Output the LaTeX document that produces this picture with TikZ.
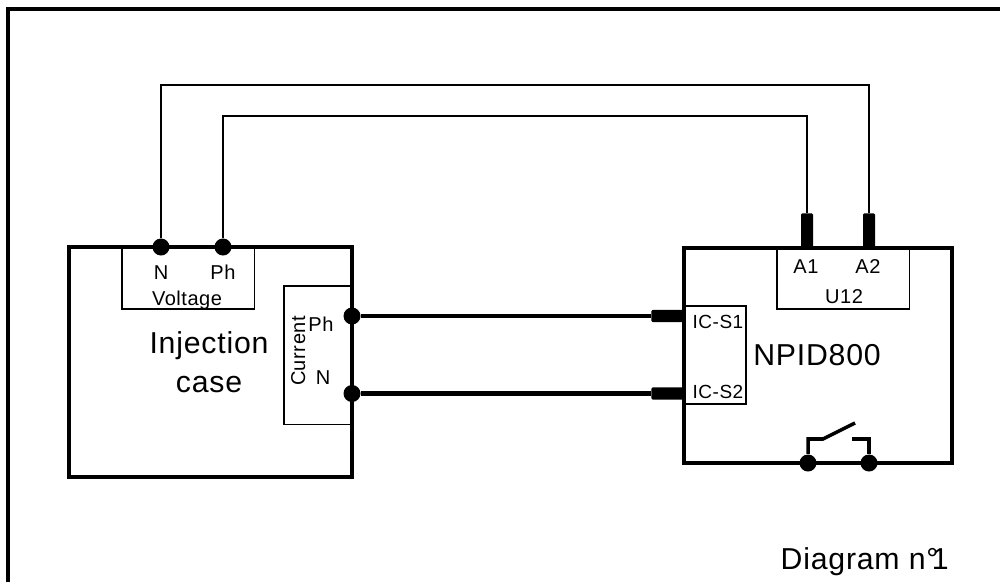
\documentclass[tikz,border=0pt]{standalone}
\usepackage{fontspec}
\setmainfont[LetterSpace=2.6]{Liberation Sans}
\tikzset{
	boxthick/.style={draw, line width=1pt, rectangle, anchor=north west, inner sep=0pt, outer sep=0pt},
	boxthin/.style={draw, line width=0.32pt, rectangle, anchor=north west, inner sep=0pt, outer sep=0pt},
	termdot/.style={circle, fill=black, inner sep=0pt, minimum size=0.17cm},
	plugv/.style={rectangle, fill=black, rounded corners=0.4pt, inner sep=0pt, minimum width=0.12cm, minimum height=0.34cm, anchor=south},
	plugh/.style={rectangle, fill=black, rounded corners=0.4pt, inner sep=0pt, minimum width=0.32cm, minimum height=0.12cm, anchor=east},
	smalltxt/.style={font=\fontsize{5.7}{6.8}\selectfont, anchor=base, inner sep=0pt},
	bigtxt/.style={font=\fontsize{8.6}{10.3}\selectfont, anchor=base, inner sep=0pt},
	wirethin/.style={line width=0.32pt},
	wirethick/.style={line width=1.15pt},
	switchline/.style={line width=1pt}
}
\begin{document}
\begin{tikzpicture}[x=0.01cm, y=-0.01cm]
	\useasboundingbox (0,0) rectangle (1000,582);
	% Outer frame
	\coordinate (framebl) at (8,582);
	\coordinate (framecorner) at (8,9);
	\coordinate (frametr) at (1000,9);
	\draw[line width=1.15pt] (framebl) -- (framecorner) -- (frametr);

	% Injection case
	\node[boxthin, minimum width=1.32cm, minimum height=0.62cm] (voltbox) at (122,247) {};
	\node[boxthin, minimum width=0.68cm, minimum height=1.38cm] (currbox) at (284,286) {};
	\node[boxthick, minimum width=2.83cm, minimum height=2.30cm] (injbox) at (69,247) {};
	\node[termdot] (dotn) at (161,247) {};
	\node[termdot] (dotph) at (223,247) {};
	\node[termdot] (dotcph) at (352,316) {};
	\node[termdot] (dotcn) at (352,393.5) {};
	\node[smalltxt] (lbln) at (161,279) {N};
	\node[smalltxt] (lblph) at (223,279) {Ph};
	\node[smalltxt] (lblvolt) at (187,305) {Voltage};
	\node[bigtxt] (lblinj) at (209,353) {Injection};
	\node[bigtxt] (lblcase) at (209,392) {case};
	\node[smalltxt, rotate=90] (lblcurr) at (305,351) {Current};
	\node[smalltxt] (lblcph) at (321,331) {Ph};
	\node[smalltxt] (lblcn) at (323,384) {N};

	% NPID800
	\node[boxthin, minimum width=1.32cm, minimum height=0.61cm] (ubox) at (777,248) {};
	\node[boxthin, minimum width=0.62cm, minimum height=0.98cm] (icbox) at (684,306) {};
	\node[boxthick, minimum width=2.68cm, minimum height=2.15cm] (npidbox) at (684,248) {};
	\node[plugv] (pluga) at (807,248) {};
	\node[plugv] (plugb) at (869,248) {};
	\node[plugh] (plugs) at (684,316) {};
	\node[plugh] (plugt) at (684,393.5) {};
	\node[smalltxt] (lbla) at (806,273) {A1};
	\node[smalltxt] (lblb) at (868,273) {A2};
	\node[smalltxt] (lblu) at (844,303) {U12};
	\node[smalltxt, anchor=base west, font=\fontsize{5.4}{6.5}\selectfont] (lbls) at (692,328) {IC-S1};
	\node[smalltxt, anchor=base west, font=\fontsize{5.4}{6.5}\selectfont] (lblt) at (692,398) {IC-S2};
	\node[bigtxt] (lblnpid) at (817,365) {NPID800};

	% Wires
	\coordinate (topn) at (500,85);
	\coordinate (topph) at (500,116);
	\draw[wirethin] (dotn) |- (topn) -| (plugb);
	\draw[wirethin] (dotph) |- (topph) -| (pluga);
	\draw[wirethick] (dotcph) -- (plugs);
	\draw[wirethick] (dotcn) -- (plugt);

	% Switch
	\node[termdot] (dotsa) at (808,463) {};
	\node[termdot] (dotsb) at (869,463) {};
	\coordinate (swa) at (823,439);
	\coordinate (swb) at (855,423);
	\coordinate (swc) at (852,439);
	\draw[switchline] (dotsa) |- (swa) -- (swb);
	\draw[switchline] (dotsb) |- (swc);

	\node[bigtxt, anchor=base west] (lbldiag) at (780,569) {Diagram n°\kern-0.22em 1};
\end{tikzpicture}
\end{document}
